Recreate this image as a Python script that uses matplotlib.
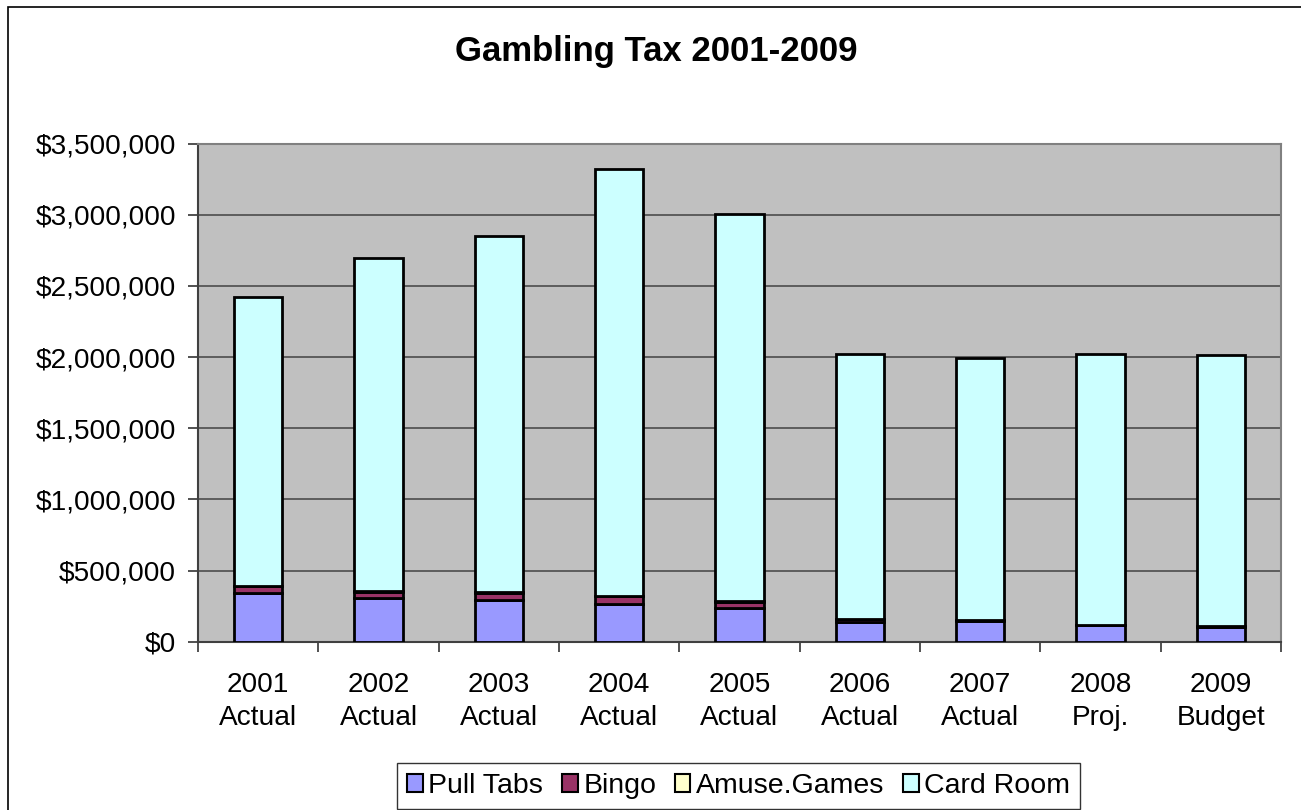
import matplotlib
matplotlib.use("Agg")
import matplotlib.pyplot as plt
from matplotlib.patches import Rectangle, Patch
from matplotlib.ticker import FuncFormatter, FixedLocator
import numpy as np

plt.rcParams['font.family'] = ['Liberation Sans', 'DejaVu Sans']

categories = ["2001\nActual", "2002\nActual", "2003\nActual", "2004\nActual",
              "2005\nActual", "2006\nActual", "2007\nActual", "2008\nProj.",
              "2009\nBudget"]
pull_tabs = [342000, 305000, 293000, 265000, 237000, 139000, 144000, 114000, 104000]
bingo = [47000, 47000, 52000, 54000, 45000, 21000, 5000, 2000, 1000]
amuse_games = [5000, 5000, 5000, 5000, 5000, 3000, 3000, 3000, 3000]
card_room = [2026000, 2343000, 2503000, 2996000, 2718000, 1856000, 1843000, 1901000, 1904000]

series = [("Pull Tabs", pull_tabs, "#9999FF"),
          ("Bingo", bingo, "#993366"),
          ("Amuse.Games", amuse_games, "#FFFFCC"),
          ("Card Room", card_room, "#CCFFFF")]

fig = plt.figure(figsize=(13.01, 8.10), dpi=100)
fig.patch.set_facecolor("white")

# chart frame (open on the right and bottom)
fig.patches.append(Rectangle((8 / 1301, -0.2), 1.5, 1.2 - 7 / 810,
                             transform=fig.transFigure, fill=False,
                             edgecolor="#000000", linewidth=1.2, zorder=0))

ax = fig.add_axes([198 / 1301, 1 - 641.7 / 810, (1281 - 198) / 1301, (641.7 - 143.7) / 810])
ax.set_facecolor("#C0C0C0")

x = np.arange(len(categories))
bottom = np.zeros(len(categories))
handles = []
for name, vals, col in series:
    vals = np.array(vals, dtype=float)
    ax.bar(x, vals, width=0.4, bottom=bottom, color=col, edgecolor="black",
           linewidth=2.0, zorder=3)
    bottom += vals
    handles.append(Patch(facecolor=col, edgecolor="black", linewidth=1.5, label=name))

ax.set_xlim(-0.5, len(categories) - 0.5)
ax.set_ylim(0, 3500000)
ax.set_yticks(np.arange(0, 3500001, 500000))
ax.yaxis.set_major_formatter(FuncFormatter(lambda v, p: "${:,.0f}".format(v)))
ax.yaxis.grid(True, color="#555555", linewidth=1.3, zorder=1)
ax.set_axisbelow(True)

ax.xaxis.set_major_locator(FixedLocator(np.arange(-0.5, len(categories), 1.0)))
ax.xaxis.set_minor_locator(FixedLocator(x))
ax.set_xticklabels([], minor=False)
ax.set_xticklabels(categories, minor=True, linespacing=1.32)
ax.tick_params(axis="x", which="major", length=7, width=1.2, color="#333333", direction="out")
ax.tick_params(axis="x", which="minor", length=0, pad=22, labelsize=20.2)
ax.tick_params(axis="y", length=7, width=1.2, color="#333333", direction="out",
               pad=9, labelsize=20.2)

for s in ax.spines.values():
    s.set_color("#808080")
    s.set_linewidth(1.5)
ax.spines["left"].set_color("#404040")
ax.spines["bottom"].set_color("#404040")

fig.text(656 / 1301, 1 - 51 / 810, "Gambling Tax 2001-2009", ha="center", va="center",
         fontsize=25, fontweight="bold")

leg = fig.legend(handles=handles, loc="center", bbox_to_anchor=(738.7 / 1301, 1 - 786 / 810),
                 ncol=4, fontsize=20.5, frameon=True, fancybox=False,
                 handlelength=0.55, handleheight=0.55, handletextpad=0.2,
                 columnspacing=0.65, borderpad=0.35, borderaxespad=0)
leg.get_frame().set_edgecolor("black")
leg.get_frame().set_linewidth(1.0)

fig.savefig("out.png", dpi=100)
